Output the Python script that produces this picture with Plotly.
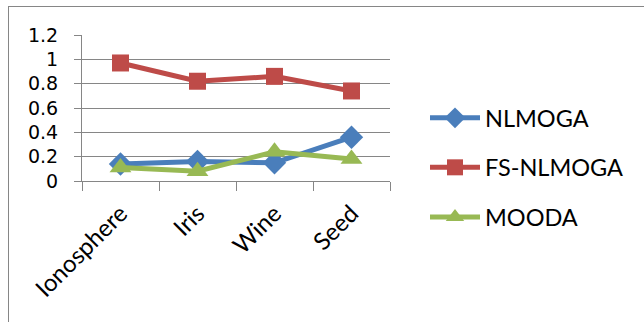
import plotly.graph_objects as go

categories = ["Ionosphere", "Iris", "Wine", "Seed"]
nlmoga = [0.14, 0.16, 0.15, 0.36]
fs_nlmoga = [0.97, 0.82, 0.86, 0.74]
mooda = [0.11, 0.08, 0.24, 0.18]

W, H = 644, 322
L, R, T, B = 82, 254, 35, 141

series = [
    ("NLMOGA", nlmoga, "#4A7EBB", "diamond", 18),
    ("FS-NLMOGA", fs_nlmoga, "#BE4B48", "square", 17),
    ("MOODA", mooda, "#98B954", "triangle-up", 19),
]

fig = go.Figure()
for i, (name, vals, color, sym, size) in enumerate(series):
    fig.add_trace(go.Scatter(
        x=categories, y=vals, name=name, mode="lines+markers",
        line=dict(color=color, width=5),
        marker=dict(symbol=sym, size=size, color=color),
        legendgroup=f"g{i}",
    ))

font = "Lato, 'Open Sans', sans-serif"
pw = W - L - R
ph = H - T - B

def px_to_paper_x(px):
    return (px - L) / pw

def px_to_paper_y(py):
    return 1 - (py - T) / ph

fig.update_layout(
    width=W, height=H,
    margin=dict(l=L, r=R, t=T, b=B),
    paper_bgcolor="white", plot_bgcolor="white",
    font=dict(family=font, size=23, color="#000000"),
    showlegend=True,
    legend=dict(
        x=px_to_paper_x(425), y=px_to_paper_y(96),
        xanchor="left", yanchor="top",
        font=dict(size=23.5), tracegroupgap=16,
        itemwidth=50, bgcolor="rgba(0,0,0,0)",
    ),
    xaxis=dict(
        type="category", showgrid=False,
        showline=True, linecolor="#868686", linewidth=1,
        ticks="outside", ticklen=9, tickcolor="#868686",
        tickson="boundaries", tickangle=-45,
        ticklabelstandoff=8,
        tickfont=dict(size=24),
        range=[-0.5, 3.5],
    ),
    yaxis=dict(
        range=[0, 1.2], dtick=0.2, tickformat="~g",
        showgrid=True, gridcolor="#868686", gridwidth=1,
        showline=True, linecolor="#868686", linewidth=1,
        ticks="outside", ticklen=7, tickcolor="#868686",
        ticklabelstandoff=12,
        tickfont=dict(family="'DejaVu Sans', sans-serif", size=19),
        zeroline=False,
    ),
    shapes=[
        dict(type="line", xref="paper", yref="paper",
             x0=px_to_paper_x(8), x1=px_to_paper_x(W), y0=px_to_paper_y(6.5), y1=px_to_paper_y(6.5),
             line=dict(color="#868686", width=1)),
        dict(type="line", xref="paper", yref="paper",
             x0=px_to_paper_x(8.5), x1=px_to_paper_x(8.5), y0=px_to_paper_y(6), y1=px_to_paper_y(H),
             line=dict(color="#868686", width=1)),
    ],
)

fig.write_html("out.html")
